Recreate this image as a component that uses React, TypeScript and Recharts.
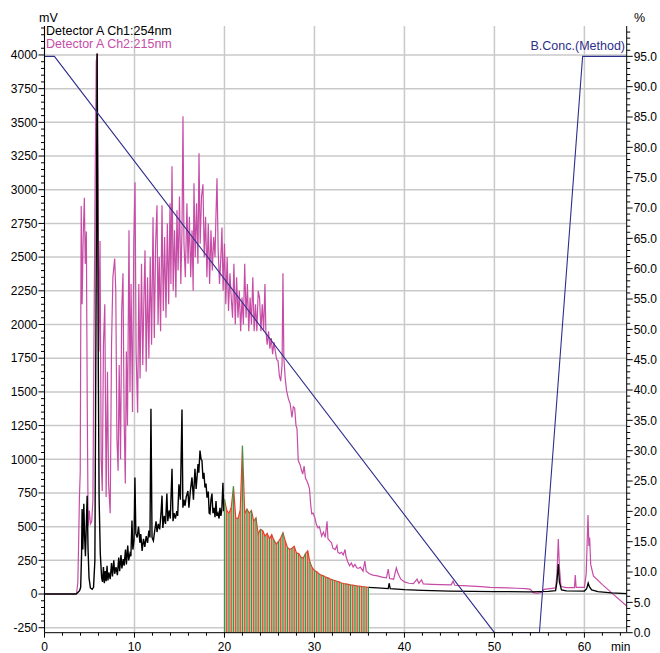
import { ComposedChart, Line, Area, XAxis, YAxis, CartesianGrid } from 'recharts'

// [time (min), mV]
const ch1Start: [number, number][] = [
  [0, 0], [3.5, 0], [3.65, 8], [3.9, 25], [4.02, 50], [4.12, 300], [4.18, 630], [4.26, 330], [4.37, 670],
  [4.46, 420], [4.55, 280], [4.65, 520], [4.74, 730], [4.84, 330], [4.95, 120], [5.1, 45], [5.3, 35],
  [5.45, 50], [5.6, 250], [5.72, 2000], [5.85, 4010], [5.97, 1800], [6.07, 700], [6.2, 300], [6.35, 120],
  [6.45, 90], [6.55, 200], [6.65, 80], [6.75, 170], [6.85, 95], [6.95, 210], [7.05, 100], [7.15, 160],
  [7.3, 110], [7.45, 230], [7.55, 130], [7.7, 250], [7.8, 150], [7.95, 200], [8.1, 140], [8.25, 270],
  [8.35, 170], [8.5, 290], [8.6, 190], [8.75, 260], [8.85, 210], [9.0, 330], [9.1, 220], [9.25, 360],
  [9.35, 250], [9.5, 300], [9.6, 280], [9.72, 545], [9.82, 330], [9.95, 400], [10.05, 865], [10.15, 450],
  [10.3, 420], [10.45, 500], [10.6, 380], [10.7, 445], [10.85, 320], [11.0, 410], [11.15, 350], [11.3, 430],
  [11.45, 380], [11.6, 470], [11.72, 420], [11.83, 1375], [11.95, 420], [12.1, 395], [12.25, 470], [12.4, 540],
  [12.5, 460], [12.65, 520], [12.8, 480], [12.95, 600], [13.06, 730], [13.15, 490], [13.3, 580], [13.45, 520],
  [13.6, 745], [13.7, 540], [13.85, 620], [13.98, 560], [14.17, 930], [14.28, 540], [14.4, 600], [14.55, 560],
  [14.7, 615], [14.8, 580], [14.94, 815], [15.1, 700], [15.28, 1370], [15.38, 640], [15.5, 700], [15.62, 655],
  [15.75, 720], [15.94, 765], [16.05, 640], [16.2, 760], [16.39, 865], [16.55, 700], [16.72, 930], [16.85, 780],
  [17.06, 965], [17.15, 900], [17.28, 1065], [17.4, 1000], [17.5, 990], [17.61, 855], [17.72, 900], [17.83, 790],
  [17.95, 820], [18.06, 715], [18.2, 760], [18.3, 600], [18.39, 595], [18.5, 700], [18.61, 745], [18.72, 600],
  [18.85, 640], [18.95, 570], [19.06, 690], [19.15, 580], [19.28, 600], [19.4, 560], [19.5, 640], [19.6, 580],
  [19.7, 620], [19.83, 825], [19.92, 615], [20.0, 700],
]

// fractions: one value per fraction boundary, every fracStep min from fracStart
const fracStart = 20
const fracStep = 0.25
const ch1Frac: number[] = [
  700, 620, 600, 640, 800, 565, 560, 620, 1100, 595, 630, 600, 620, 540, 565, 445,
  480, 470, 430, 450, 410, 440, 400, 370, 390, 415, 455, 395, 345, 330, 340, 355,
  305, 300, 275, 265, 300, 320, 235, 195, 175, 165, 150, 140, 135, 125, 120, 112,
  105, 100, 95, 90, 82, 78, 75, 72, 68, 66, 63, 60, 58, 56, 54, 52, 50,
]

const ch1End: [number, number][] = [
  [36, 50], [37, 45], [38.2, 40], [38.3, 80], [38.42, 40], [40, 32], [42, 27], [45, 22], [50, 18],
  [54, 16], [56, 20], [56.8, 25], [56.95, 90], [57.1, 223], [57.22, 90], [57.45, 30], [58, 23], [60, 22],
  [60.25, 40], [60.42, 82], [60.55, 55], [60.8, 30], [61.5, 18], [63, 8], [64.7, 3],
]

const ch2: [number, number][] = [
  [0, 0], [3.55, 0], [3.7, 80], [3.8, 400], [3.88, 715], [3.97, 900], [4.08, 2880], [4.18, 2150], [4.3, 2650],
  [4.43, 2940], [4.53, 2450], [4.65, 2690], [4.75, 1400], [4.85, 505], [4.98, 620], [5.1, 520], [5.25, 540],
  [5.38, 700], [5.5, 1900], [5.62, 3000], [5.75, 3950], [5.85, 4010], [5.95, 3100], [6.05, 1800], [6.17, 2620],
  [6.3, 1000], [6.42, 765], [6.55, 1850], [6.7, 2150], [6.85, 720], [7.0, 1650], [7.12, 820], [7.3, 600],
  [7.45, 1850], [7.6, 2350], [7.8, 2490], [7.92, 2250], [8.05, 1150], [8.18, 915], [8.3, 1700], [8.45, 1000],
  [8.58, 2100], [8.72, 2380], [8.85, 1300], [8.98, 820], [9.1, 1800], [9.22, 1250], [9.39, 2700], [9.5, 1500],
  [9.62, 2300], [9.78, 1350], [9.92, 2600], [10.06, 3056], [10.18, 1800], [10.35, 1345], [10.48, 2300],
  [10.62, 1600], [10.78, 2450], [10.92, 1700], [11.05, 2200], [11.17, 2550], [11.3, 1650], [11.45, 2350],
  [11.6, 1750], [11.75, 2500], [11.9, 1850], [12.06, 2795], [12.2, 1900], [12.35, 2600], [12.5, 2885],
  [12.62, 2000], [12.75, 2500], [12.9, 1950], [13.06, 2885], [13.2, 2100], [13.35, 2650], [13.5, 2050],
  [13.65, 2750], [13.8, 2150], [13.95, 2900], [14.05, 2300], [14.17, 3175], [14.3, 2250], [14.45, 2700],
  [14.6, 2200], [14.72, 2848], [14.85, 2400], [15.0, 2950], [15.15, 2300], [15.28, 2700], [15.39, 3546],
  [15.5, 2600], [15.65, 2350], [15.83, 2900], [15.95, 2450], [16.1, 2800], [16.25, 2350], [16.4, 2700],
  [16.52, 2250], [16.61, 3048], [16.75, 2500], [16.9, 2900], [17.05, 2450], [17.17, 3271], [17.3, 2600],
  [17.45, 2950], [17.61, 3040], [17.75, 2500], [17.9, 2800], [18.05, 2350], [18.2, 2750], [18.35, 2300],
  [18.5, 2700], [18.65, 2400], [18.8, 2650], [18.95, 2500], [19.05, 2800], [19.17, 3085], [19.3, 2550],
  [19.45, 2300], [19.6, 2500], [19.72, 2720], [19.85, 2250], [20.0, 2600], [20.15, 2150], [20.3, 2500],
  [20.45, 2100], [20.61, 2380], [20.75, 2200], [20.9, 2050], [21.05, 2450], [21.2, 2000], [21.35, 2350],
  [21.5, 2050], [21.65, 2250], [21.8, 1950], [21.95, 2200], [22.1, 2000], [22.25, 2450], [22.4, 2050],
  [22.55, 2300], [22.7, 1950], [22.85, 2200], [23.0, 2000], [23.15, 2350], [23.3, 1950], [23.45, 2150],
  [23.6, 1950], [23.75, 2250], [23.9, 2200], [24.05, 1950], [24.2, 2150], [24.35, 1950], [24.5, 2300],
  [24.6, 1950], [24.75, 1850], [24.9, 1950], [25.05, 1820], [25.2, 1900], [25.35, 1780], [25.5, 1870],
  [25.65, 1800], [25.8, 1740], [25.95, 1730], [26.1, 1620], [26.25, 1580], [26.4, 1700], [26.5, 2380],
  [26.6, 1755], [26.75, 1600], [26.9, 1510], [27.1, 1450], [27.3, 1412], [27.5, 1310], [27.65, 1390],
  [27.8, 1380], [27.95, 1250], [28.06, 1225], [28.2, 990], [28.4, 960], [28.55, 920], [28.7, 890],
  [28.85, 950], [29.0, 860], [29.15, 840], [29.3, 815], [29.45, 780], [29.6, 650], [29.7, 595], [29.85, 600],
  [30.05, 565], [30.2, 520], [30.4, 490], [30.55, 500], [30.8, 430], [31.0, 460], [31.2, 420], [31.4, 540],
  [31.5, 410], [31.7, 395], [31.9, 380], [32.05, 340], [32.3, 330], [32.5, 360], [32.6, 310], [32.8, 300],
  [33.0, 310], [33.2, 290], [33.4, 330], [33.5, 280], [33.7, 240], [33.9, 210], [34.1, 230], [34.3, 200],
  [34.5, 220], [34.7, 195], [34.9, 190], [35.1, 200], [35.4, 170], [35.6, 245], [35.75, 170], [36.1, 150],
  [36.5, 140], [37.0, 135], [37.5, 125], [38.0, 120], [38.2, 185], [38.35, 115], [38.8, 110], [39.1, 195],
  [39.3, 150], [39.6, 110], [40.0, 90], [40.5, 80], [41.0, 78], [41.4, 110], [41.6, 80], [41.9, 105],
  [42.1, 75], [43, 72], [44, 70], [45.2, 68], [45.4, 95], [45.6, 65], [46.5, 62], [47.5, 58], [48.5, 55],
  [49.5, 50], [50.5, 48], [51.5, 45], [52.5, 43], [53.5, 40], [54.0, 35], [54.3, 10], [54.8, 5], [55.3, 15],
  [55.5, 35], [56.2, 40], [56.8, 45], [56.95, 150], [57.1, 409], [57.22, 200], [57.4, 55], [58, 48],
  [58.9, 48], [58.98, 140], [59.08, 50], [60.0, 50], [60.2, 150], [60.4, 587], [60.5, 357], [60.58, 420],
  [60.7, 220], [61.0, 134], [62.0, 70], [63.0, 10], [64.7, -89],
]

// [time (min), %B]
const bConc: [number, number][] = [[0, 95], [1.1, 95], [50, 0], [55, 0], [59.8, 95], [64.7, 95]]

const timeTicks = [0, 10, 20, 30, 40, 50, 60]
const timeAll = Array.from({ length: 33 }, (_, i) => i * 2)
const mvTicks = [-250, 0, 250, 500, 750, 1000, 1250, 1500, 1750, 2000, 2250, 2500, 2750, 3000, 3250, 3500, 3750, 4000]
const mvAll = Array.from({ length: 90 }, (_, i) => -250 + i * 50)
const pctAll = Array.from({ length: 100 }, (_, i) => i)

const T_MAX = 64.7
const MV_DOMAIN: [number, number] = [-287, 4215]
const FLOOR = -400

const PINK = '#c64ca6'
const NAVY = '#2e2e8c'
const GREEN = '#1ea34c'
const RED = '#e2432b'

const rows = (pts: [number, number][]) => pts.map(([t, v]) => ({ t, v }))
const fracRows = ch1Frac.map((v, i) => ({ t: fracStart + i * fracStep, v }))
const stripes = (odd: number) =>
  fracRows
    .filter((_, i) => i % 2 === odd)
    .flatMap((r) => [{ t: r.t, v: FLOOR }, { t: r.t, v: r.v }, { t: r.t, v: FLOOR }])

// ticks: majors get a long line and a label, minors just a short line
const MAJOR = 6
const MINOR = 3.5
const GAP = 1

const MvTick = ({ x, y, payload }: any) => {
  const major = payload.value % 250 === 0
  const x0 = x + MAJOR + GAP
  return (
    <g>
      <line x1={x0} x2={x0 - (major ? MAJOR : MINOR)} y1={y} y2={y} stroke="#000" />
      {major && <text x={x} y={y} dy="0.355em" textAnchor="end" fontSize={12} fill="#000">{payload.value}</text>}
    </g>
  )
}

const PctTick = ({ x, y, payload }: any) => {
  const major = payload.value % 5 === 0
  const x0 = x - MAJOR - GAP
  return (
    <g>
      <line x1={x0} x2={x0 + (major ? MAJOR : MINOR)} y1={y} y2={y} stroke="#000" />
      {major && <text x={x} y={y} dy="0.355em" textAnchor="start" fontSize={12} fill="#000">{payload.value.toFixed(1)}</text>}
    </g>
  )
}

const TimeTick = ({ x, y, payload }: any) => {
  const major = payload.value % 10 === 0
  const y0 = y - 5 - 5
  return (
    <g>
      <line x1={x} x2={x} y1={y0} y2={y0 + (major ? 5 : 3)} stroke="#000" />
      {major && <text x={x} y={y} dy="0.71em" textAnchor="middle" fontSize={12} fill="#000">{payload.value}</text>}
    </g>
  )
}

const font = '"Liberation Sans", Arial, sans-serif'
const txt = (extra: React.CSSProperties): React.CSSProperties => ({
  position: 'absolute', fontSize: 12.5, lineHeight: 1, whiteSpace: 'nowrap', ...extra,
})

export default function App() {
  return (
    <div style={{ position: 'absolute', left: 0, top: 0, width: 660, height: 653, fontFamily: font, background: '#fff' }}>
      <ComposedChart width={660} height={653} margin={{ top: 26, right: 0, bottom: 0, left: 0 }}>
        <XAxis xAxisId="t" type="number" dataKey="t" domain={[0, T_MAX]} allowDataOverflow ticks={timeAll}
          interval={0} height={20.3} tickSize={5} tickMargin={5} tick={<TimeTick />}
          axisLine={{ stroke: '#000' }} tickLine={false} />
        <XAxis xAxisId="top" orientation="top" type="number" domain={[0, T_MAX]} allowDataOverflow height={0}
          tick={false} tickLine={false} axisLine={{ stroke: '#6b6b6b', strokeWidth: 2 }} />
        <YAxis yAxisId="mv" type="number" domain={MV_DOMAIN} allowDataOverflow ticks={mvAll} interval={0}
          width={44.5} tickSize={MAJOR} tickMargin={GAP} tick={<MvTick />}
          axisLine={{ stroke: '#000' }} tickLine={false} />
        <YAxis yAxisId="pct" orientation="right" type="number" domain={[0, 100]} allowDataOverflow ticks={pctAll}
          interval={0} width={33.3} tickSize={MAJOR} tickMargin={GAP} tick={<PctTick />}
          axisLine={{ stroke: '#000' }} tickLine={false} />

        {/* grid only on the major ticks */}
        <CartesianGrid xAxisId="t" yAxisId="mv" stroke="#c9c9c9" strokeWidth={1.5}
          horizontalValues={mvTicks} verticalValues={timeTicks} />

        {/* Ch2 215nm */}
        <Line xAxisId="t" yAxisId="mv" data={rows(ch2)} dataKey="v" type="linear" stroke={PINK} strokeWidth={1.2}
          dot={false} activeDot={false} isAnimationActive={false} />
        {/* Ch1 254nm outside the fraction window */}
        <Line xAxisId="t" yAxisId="mv" data={rows(ch1Start)} dataKey="v" type="linear" stroke="#000" strokeWidth={1.4}
          dot={false} activeDot={false} isAnimationActive={false} />
        <Line xAxisId="t" yAxisId="mv" data={rows(ch1End)} dataKey="v" type="linear" stroke="#000" strokeWidth={1.3}
          dot={false} activeDot={false} isAnimationActive={false} />

        {/* collected fractions */}
        <Area xAxisId="t" yAxisId="mv" data={fracRows} dataKey="v" type="linear" baseValue={FLOOR}
          fill="#d3b291" fillOpacity={0.85} stroke={RED} strokeWidth={1.2} dot={false} activeDot={false}
          isAnimationActive={false} />
        <Line xAxisId="t" yAxisId="mv" data={stripes(0)} dataKey="v" type="linear" stroke={GREEN} strokeWidth={1.1}
          dot={false} activeDot={false} isAnimationActive={false} />
        <Line xAxisId="t" yAxisId="mv" data={stripes(1)} dataKey="v" type="linear" stroke={RED} strokeWidth={1.1}
          dot={false} activeDot={false} isAnimationActive={false} />

        {/* gradient program */}
        <Line xAxisId="t" yAxisId="pct" data={rows(bConc)} dataKey="v" type="linear" stroke={NAVY} strokeWidth={1.1}
          dot={false} activeDot={false} isAnimationActive={false} />
      </ComposedChart>

      <div style={txt({ left: 39, top: 11.5, color: '#000' })}>mV</div>
      <div style={txt({ left: 46, top: 25, color: '#000' })}>Detector A Ch1:254nm</div>
      <div style={txt({ left: 46, top: 37.7, color: PINK })}>Detector A Ch2:215nm</div>
      <div style={txt({ left: 634, top: 12, color: '#000' })}>%</div>
      <div style={txt({ right: 35, top: 39.5, color: NAVY })}>B.Conc.(Method)</div>
      <div style={txt({ left: 611, top: 641, color: '#000', fontSize: 12 })}>min</div>
    </div>
  )
}
